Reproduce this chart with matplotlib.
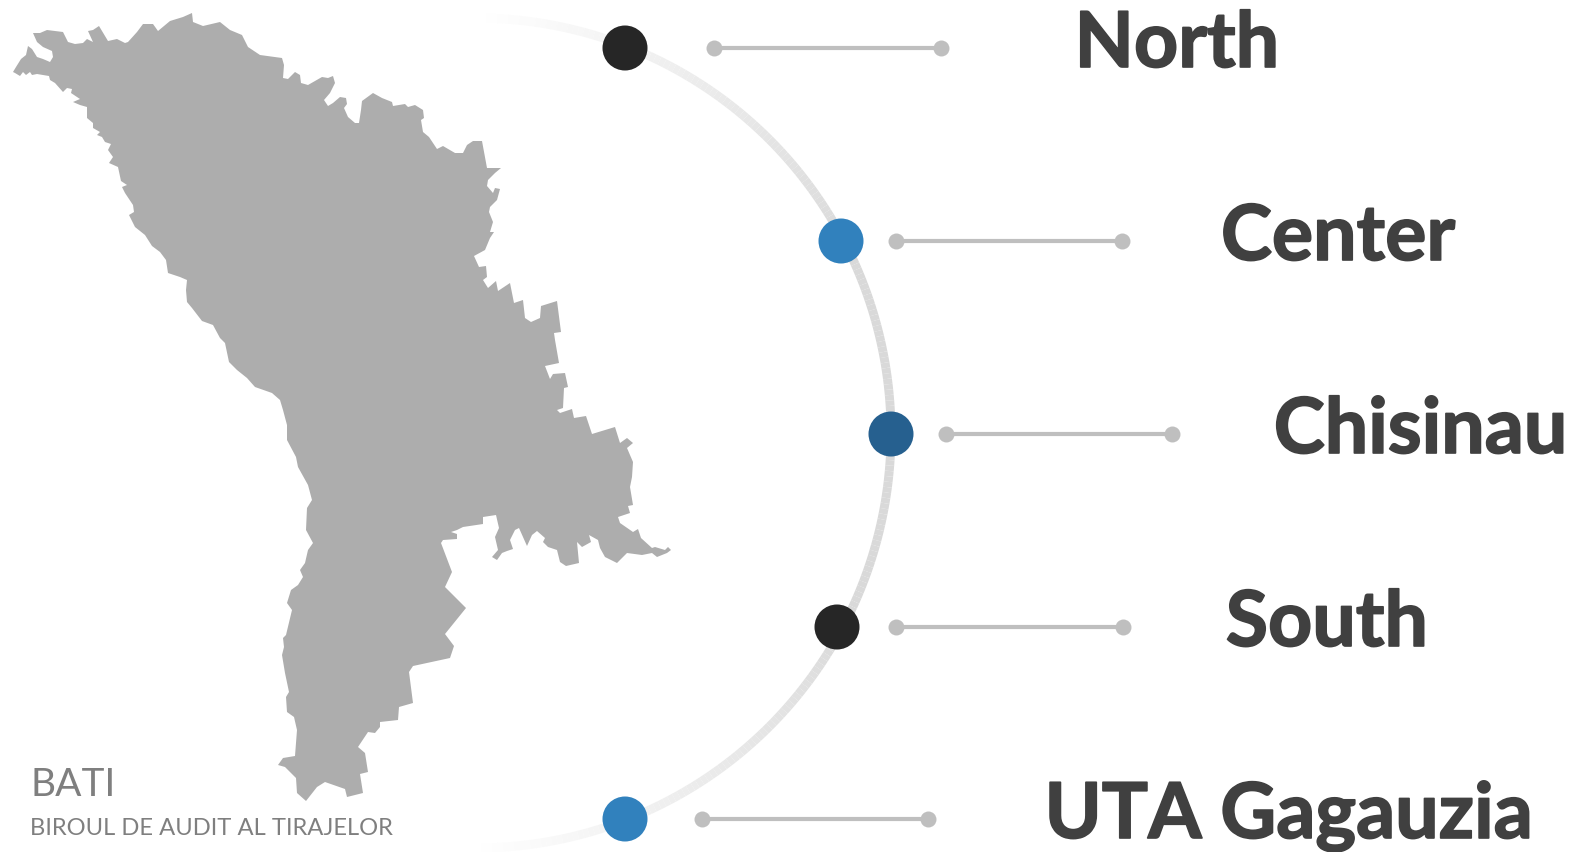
import matplotlib
matplotlib.use('Agg')
import matplotlib.pyplot as plt
import matplotlib.patheffects as pe
from matplotlib.collections import LineCollection
from matplotlib.colors import to_rgb
import numpy as np

# Regions, top to bottom
regions = ['North', 'Center', 'Chisinau', 'South', 'UTA Gagauzia']
dot_x = [625, 841, 891, 837, 625]
dot_y = [48, 241, 434, 627, 819]
dot_colors = ['#262626', '#3181BD', '#26608F', '#262626', '#3181BD']
line_start = [714, 896, 946, 896, 702]
line_end = [941, 1122, 1172, 1123, 928]
label_x = [1177, 1338, 1421, 1327, 1289]
label_y = [67, 260, 453, 646, 838]

# Outline of the map, traced by hand (clockwise from the western tip)
map_x = [13, 16, 21, 26, 28, 32, 37, 43, 50, 53, 52, 43, 37, 33, 40, 47, 55, 63, 68, 75, 83, 87, 93, 88, 93, 99,
         108, 117, 125, 128, 137, 143, 153, 158, 170, 183, 192, 193, 203, 220, 230, 242, 248, 260, 282, 284, 283,
         288, 295, 300, 301, 308, 322, 328, 333, 335, 330, 324, 328, 333, 340, 346, 347, 344, 348, 355, 359, 361,
         362, 373, 382, 392, 393, 405, 408, 415, 423, 424, 421, 423, 429, 437, 443, 455, 463, 467, 473, 482, 487,
         501, 495, 488, 487, 493, 495, 500, 497, 490, 489, 493, 490, 494, 490, 485, 474, 479, 486, 487, 483, 488,
         496, 498, 510, 514, 523, 525, 531, 540, 541, 557, 561, 554, 555, 559, 545, 550, 553, 565, 568, 564, 563,
         557, 560, 572, 574, 586, 592, 615, 620, 627, 633, 627, 633, 632, 630, 633, 628, 630, 618, 620, 633, 638,
         641, 652, 655, 665, 668, 671, 667, 657, 652, 642, 627, 617, 605, 600, 598, 589, 591, 582, 577, 579, 566,
         560, 557, 548, 543, 545, 537, 532, 527, 519, 515, 510, 513, 507, 502, 497, 492, 498, 495, 499, 496, 483,
         483, 463, 457, 451, 457, 457, 443, 441, 452, 445, 466, 445, 454, 450, 413, 409, 413, 399, 398, 380, 380,
         375, 368, 358, 365, 368, 360, 363, 347, 345, 325, 317, 306, 297, 296, 290, 285, 278, 283, 295, 297, 294,
         287, 286, 289, 285, 282, 284, 283, 286, 292, 287, 291, 298, 303, 300, 305, 308, 313, 306, 307, 312, 308,
         298, 296, 287, 287, 283, 280, 272, 255, 247, 237, 229, 225, 220, 213, 202, 192, 187, 186, 187, 180, 168,
         166, 160, 152, 145, 135, 129, 134, 133, 125, 122, 127, 121, 118, 109, 113, 108, 111, 105, 102, 97, 100,
         93, 93, 87, 87, 80, 73, 80, 71, 72, 67, 63, 55, 50, 49, 37, 32, 30, 26, 23, 20, 15]
map_y = [72, 67, 59, 55, 46, 49, 57, 59, 62, 57, 51, 47, 42, 33, 33, 30, 31, 32, 42, 44, 43, 39, 42, 31, 30, 26,
         41, 39, 43, 42, 32, 24, 24, 31, 21, 17, 13, 22, 26, 22, 30, 35, 47, 55, 58, 65, 78,
         79, 72, 75, 83, 85, 77, 78, 76, 83, 93, 100, 106, 103, 97, 98, 104, 108, 117, 123, 123, 110,
         101, 93, 98, 102, 106, 104, 107, 105, 110, 118, 120, 132, 137, 149, 146, 153, 153, 145, 141, 141, 168,
         168, 173, 180, 186, 193, 188, 189, 200, 207, 212, 222, 232, 232, 238, 250, 256, 267, 266, 277, 280, 288,
         281, 291, 283, 303, 300, 318, 322, 318, 306, 301, 332, 333, 340, 363, 366, 379, 374, 373, 387, 388, 408,
         410, 413, 409, 418, 416, 434, 427, 443, 438, 443, 448, 462, 477, 487, 505, 506, 513, 517, 523, 532, 529,
         538, 548, 547, 550, 547, 550, 553, 557, 553, 555, 553, 563, 557, 548, 540, 535, 542, 547, 542, 563, 566,
         562, 550, 547, 542, 538, 531, 535, 546, 528, 530, 540, 549, 551, 553, 560, 557, 550, 537, 528, 515, 517,
         524, 527, 530, 532, 534, 539, 540, 543, 572, 587, 608, 634, 646, 658, 666, 672, 703, 707, 720, 722, 727,
         733, 732, 747, 753, 772, 774, 793, 797, 789, 782, 787, 801, 793, 778, 772, 767, 765, 758, 756, 730, 717,
         712, 697, 692, 673, 655, 647, 638, 635, 610, 603, 590, 585, 577, 570, 563, 550, 543, 530, 508, 500, 485,
         467, 457, 440, 425, 410, 400, 393, 387, 378, 370, 362, 343, 338, 325, 321, 308, 302, 290, 280, 277, 273,
         260, 252, 246, 235, 227, 215, 212, 205, 193, 187, 185, 181, 167, 163, 157, 150, 144, 142, 137, 135, 132,
         128, 123, 118, 107, 105, 102, 99, 93, 89, 88, 92, 83, 80, 76, 74, 75, 72, 75, 72, 76, 73]

arc_center = (476, 433)
arc_radius = 415

fig = plt.figure(figsize=(15.78, 8.52), dpi=100)
ax = fig.add_axes([0, 0, 1, 1])
ax.set_xlim(0, 1578)
ax.set_ylim(852, 0)
ax.axis('off')

ax.fill(map_x, map_y, color='#ADADAD', lw=0, zorder=1)

# arc fades out to white towards both ends
theta = np.linspace(-np.pi / 2, np.pi / 2, 241)
px = arc_center[0] + arc_radius * np.cos(theta)
py = arc_center[1] + arc_radius * np.sin(theta)
segs = [[(px[i], py[i]), (px[i + 1], py[i + 1])] for i in range(len(px) - 1)]
grey = np.array(to_rgb('#D9D9D9'))
fade = np.clip((1 - np.abs(theta[:-1]) / (np.pi / 2)) * 1.4, 0, 1)
seg_colors = [tuple(1 - (1 - grey) * f) for f in fade]
ax.add_collection(LineCollection(segs, colors=seg_colors, linewidths=6.4, capstyle='butt', zorder=2))

ax.scatter(dot_x, dot_y, s=(45 * 0.72) ** 2, c=dot_colors, linewidths=0, zorder=3)

for x0, x1, y in zip(line_start, line_end, dot_y):
    ax.plot([x0, x1], [y, y], color='#BFBFBF', lw=3, zorder=2, solid_capstyle='butt')
    ax.plot([x0, x1], [y, y], 'o', color='#BFBFBF', ms=11.5, mew=0, zorder=2)

for name, x, y in zip(regions, label_x, label_y):
    ax.text(x, y, name, family='Lato', fontweight='bold', fontsize=55.5, color='#404040',
            ha='center', va='baseline', zorder=4,
            path_effects=[pe.withStroke(linewidth=1.2, foreground='#404040')])

ax.text(30, 796, 'BATI', family='Lato', fontsize=28, color='#7F7F7F', ha='left', va='baseline')
ax.text(30, 835, 'BIROUL DE AUDIT AL TIRAJELOR', family='Lato', fontsize=17.1, color='#7F7F7F',
        ha='left', va='baseline')

fig.savefig('out.png', dpi=100, facecolor='white')
